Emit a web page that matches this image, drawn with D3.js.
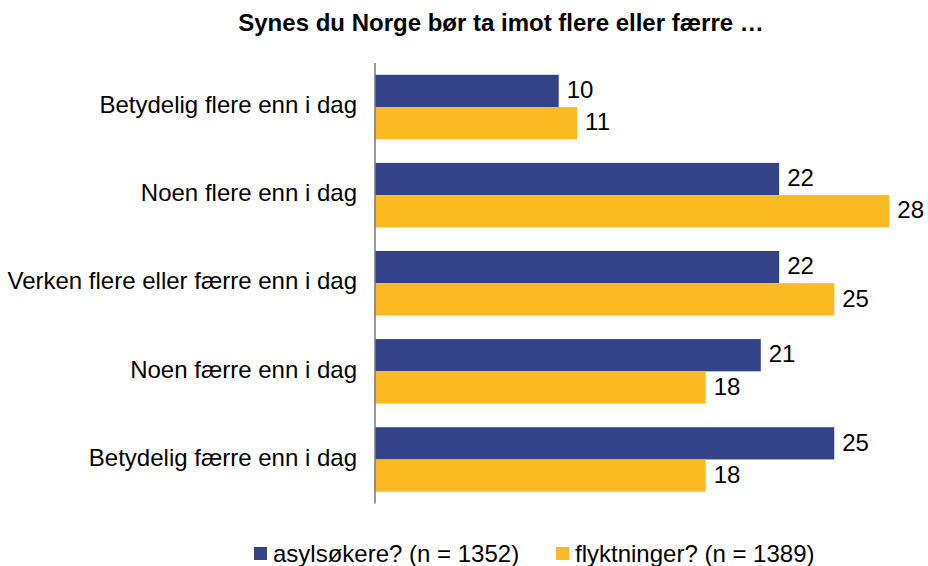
<!DOCTYPE html>
<html><head><meta charset="utf-8">
<script src="https://cdn.jsdelivr.net/npm/d3@7"></script>
<style>body{margin:0;background:#fff}svg{display:block}text{font-family:"Liberation Sans",Arial,sans-serif}</style>
</head><body>
<svg id="c" width="928" height="566"></svg>
<script>
const categories = ["Betydelig flere enn i dag","Noen flere enn i dag","Verken flere eller færre enn i dag","Noen færre enn i dag","Betydelig færre enn i dag"];
const seriesNames = ["asylsøkere? (n = 1352)","flyktninger? (n = 1389)"];
const asylsokere = [10,22,22,21,25];
const flyktninger = [11,28,25,18,18];
const colors = ["#34428A","#FBBA22"];
const title = "Synes du Norge bør ta imot flere eller færre …";

const svg = d3.select("#c");
const x0 = 375, y0 = 63, y1 = 503.5;
const x = d3.scaleLinear().domain([0,28]).range([x0, x0 + 28*18.37]);
const y = d3.scaleBand().domain(categories).range([y0,y1]).paddingInner(0.268).paddingOuter(0.134);
const ys = d3.scaleBand().domain([0,1]).range([0,y.bandwidth()]);
const series = [asylsokere, flyktninger];

svg.append("text").attr("x",501).attr("y",31).attr("text-anchor","middle")
  .attr("font-weight","bold").attr("font-size",24).attr("fill","#000").text(title);

const g = svg.append("g");
categories.forEach((c,i)=>{
  series.forEach((s,k)=>{
    g.append("rect").attr("x",x(0)).attr("y",y(c)+ys(k)).attr("width",x(s[i])-x(0))
      .attr("height",ys.bandwidth()).attr("fill",colors[k]);
    g.append("text").attr("x",x(s[i])+8).attr("y",y(c)+ys(k)+ys.bandwidth()/2)
      .attr("dy","0.3em").attr("font-size",24).attr("fill","#000").text(s[i]);
  });
  g.append("text").attr("x",357).attr("y",y(c)+y.bandwidth()/2-1).attr("dy","0.3em")
    .attr("text-anchor","end").attr("font-size",24).attr("fill","#000").text(c);
});
svg.append("line").attr("x1",x0).attr("x2",x0).attr("y1",y0).attr("y2",y1)
  .attr("stroke","#777").attr("stroke-width",1.5);

const legX = [254, 556];
seriesNames.forEach((n,k)=>{
  svg.append("rect").attr("x",legX[k]).attr("y",547).attr("width",13).attr("height",13).attr("fill",colors[k]);
  svg.append("text").attr("x",legX[k]+19).attr("y",553.5).attr("dy","0.35em").attr("font-size",24).attr("fill","#000").text(n);
});
</script>
</body></html>
